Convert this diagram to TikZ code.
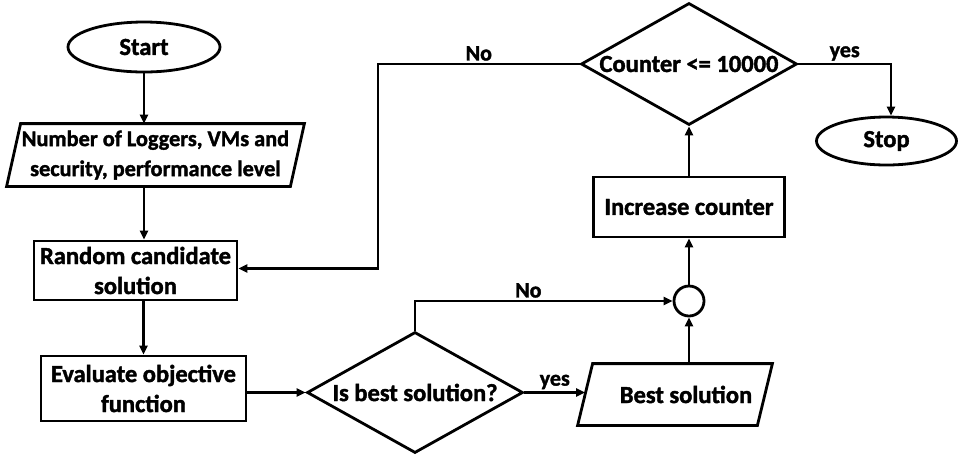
\documentclass[tikz,border=0pt]{standalone}
\usepackage{fontspec}
\setmainfont{Carlito}[BoldFeatures={FakeBold=1.6}]
\usetikzlibrary{shapes.geometric,arrows.meta,calc}
\tikzset{
  base/.style={line width=2.8pt, font=\fontsize{24.5}{30}\selectfont\bfseries, align=center, inner sep=0pt},
  oval/.style={base, draw, ellipse},
  boxnode/.style={base, draw, rectangle},
  ghost/.style={base, rectangle},
  decide/.style={base, draw, diamond},
  joint/.style={base, draw, circle, minimum size=30pt},
  conn/.style={line width=2.8pt, -{Triangle[length=9pt,width=8pt]}},
  plain/.style={line width=2.8pt},
  lbl/.style={font=\fontsize{22}{26}\selectfont\bfseries, inner sep=2pt}
}
\begin{document}
\begin{tikzpicture}[x=1pt,y=-1pt]
\useasboundingbox (0,0) rectangle (958,459);
% nodes
\node[oval, minimum width=152pt, minimum height=50pt] (start) at (144,47) {Start};
\node[ghost, minimum width=281pt, minimum height=60pt, font=\fontsize{22.3}{30}\selectfont\bfseries] (input) at (155.5,155) {Number of Loggers, VMs and\\ security, performance level};
\draw[plain] ([xshift=7pt]input.north west) -- ([xshift=7pt]input.north east) -- ([xshift=-7pt]input.south east) -- ([xshift=-7pt]input.south west) -- cycle;
\node[boxnode, minimum width=203pt, minimum height=59pt] (rand) at (135.5,270.5) {Random candidate\\ solution};
\node[boxnode, minimum width=205pt, minimum height=65pt] (eval) at (143.5,388.5) {Evaluate objective\\ function};
\node[decide, minimum width=216pt, minimum height=121pt] (isbest) at (415,392.5) {\makebox[0pt]{Is best solution?}};
\node[ghost, minimum width=177pt, minimum height=59pt] (best) at (675,394.5) {\makebox[0pt]{\hspace*{22pt}Best solution}};
\draw[plain] ([xshift=7.5pt]best.north west) -- ([xshift=7.5pt]best.north east) -- ([xshift=-7.5pt]best.south east) -- ([xshift=-7.5pt]best.south west) -- cycle;
\node[joint] (circ) at (689,301) {};
\node[boxnode, minimum width=191pt, minimum height=60pt] (inc) at (689,207) {Increase counter};
\node[decide, minimum width=216pt, minimum height=122pt] (cnt) at (689,64) {\makebox[0pt]{Counter <= 10000}};
\node[oval, minimum width=140pt, minimum height=48pt] (stop) at (886.5,141) {Stop};
\coordinate (turn) at (378,268.5);
% connectors
\draw[conn] (start.south) -- (start |- input.north);
\draw[conn] (start |- input.south) -- (start |- rand.north);
\draw[conn] (eval |- rand.south) -- (eval.north);
\draw[conn] (eval.east |- isbest.west) -- (isbest.west);
\draw[conn] (isbest.north) |- (circ.west) node[lbl, pos=0.72, above] {No};
\draw[conn] (isbest.east) -- (isbest.east -| best.west) node[lbl, midway, above] {yes};
\draw[conn] (circ |- best.north) -- (circ.south);
\draw[conn] (circ.north) -- (circ |- inc.south);
\draw[conn] (inc.north) -- (cnt.south);
\draw[conn] (cnt.west) -| (turn) node[lbl, pos=0.25, above] {No} -- (turn -| rand.east);
\draw[conn] (cnt.east) -| ([xshift=4.5pt]stop.north) node[lbl, pos=0.25, above] {yes};
\end{tikzpicture}
\end{document}
